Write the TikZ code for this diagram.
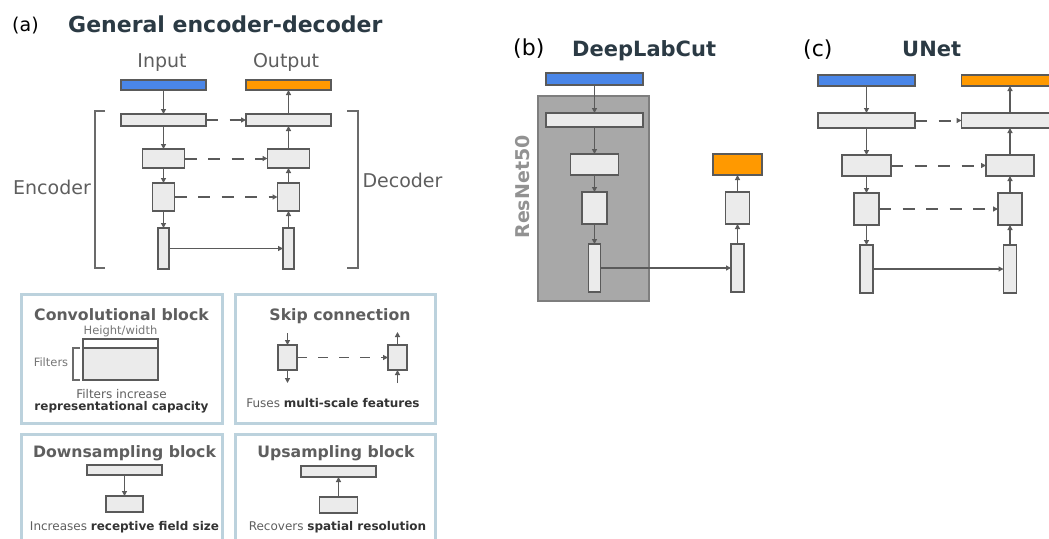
\documentclass[tikz,border=0pt]{standalone}
\usepackage{fontspec}
\setmainfont{DejaVu Sans}
\usetikzlibrary{arrows.meta}
\definecolor{ln}{HTML}{5A5A5A}
\definecolor{blkfill}{HTML}{EBEBEB}
\definecolor{inblue}{HTML}{4A86E8}
\definecolor{outorange}{HTML}{FF9900}
\definecolor{txtgray}{HTML}{5E5E5E}
\definecolor{titledark}{HTML}{2B3A44}
\definecolor{framebl}{HTML}{BCD2DD}
\definecolor{resfill}{HTML}{A8A8A8}
\definecolor{resline}{HTML}{7E7E7E}
\definecolor{restxt}{HTML}{929292}
\definecolor{boldtxt}{HTML}{333333}
\begin{document}
\begin{tikzpicture}[x=1pt,y=-1pt,
  blk/.style={draw=ln, fill=blkfill, line width=1.6pt, inner sep=0pt, outer sep=0pt},
  inbar/.style={blk, fill=inblue},
  outbar/.style={blk, fill=outorange},
  arr/.style={draw=ln, line width=1.6pt, -{Triangle[length=5pt,width=5pt]}},
  skiparr/.style={arr, line width=2pt, dash pattern=on 12pt off 11.5pt},
  bracket/.style={draw=ln!90, line width=1.6pt},
  frame/.style={draw=framebl, line width=3pt},
  lbl/.style={font=\fontsize{19}{22}\selectfont, text=txtgray, inner sep=0pt},
  plabel/.style={font=\fontsize{19}{22}\selectfont, text=black, inner sep=0pt},
  ptitle/.style={font=\fontsize{22}{26}\selectfont\bfseries, text=titledark, inner sep=0pt},
  ptitleb/.style={font=\fontsize{21}{25}\selectfont\bfseries, text=titledark, inner sep=0pt},
  lgtitle/.style={font=\fontsize{15.7}{18}\selectfont\bfseries, text=txtgray, inner sep=0pt},
  lgsmall/.style={font=\fontsize{12}{14}\selectfont, text=txtgray, inner sep=0pt},
  lgtiny/.style={font=\fontsize{11.5}{13}\selectfont, text=txtgray!85, inner sep=0pt}
]
\useasboundingbox (0,0) rectangle (1049,538);
\clip (0,0) rectangle (1049,538);

% ---------------- (a) General encoder-decoder
\node[plabel, anchor=base west] (la) at (12,31) {(a)};
\node[ptitle, anchor=base west] (ta) at (68,32) {General encoder-decoder};
\node[lbl, anchor=base] (tin) at (162,67) {Input};
\node[lbl, anchor=base] (tout) at (286,67) {Output};
\node[lbl, anchor=base] (tenc) at (52,194) {Encoder};
\node[lbl, anchor=base] (tdec) at (402.5,187) {Decoder};

\node[inbar, minimum width=85pt, minimum height=10pt] (ain) at (163.5,85) {};
\node[outbar, minimum width=85pt, minimum height=10pt] (aout) at (288.5,85) {};
\node[blk, minimum width=85pt, minimum height=12pt] (ae1) at (163.5,120) {};
\node[blk, minimum width=85pt, minimum height=12pt] (ad1) at (288.5,120) {};
\node[blk, minimum width=42pt, minimum height=19pt] (ae2) at (163.5,158.5) {};
\node[blk, minimum width=42pt, minimum height=19pt] (ad2) at (288.5,158.5) {};
\node[blk, minimum width=22pt, minimum height=28pt] (ae3) at (163.5,197) {};
\node[blk, minimum width=22pt, minimum height=28pt] (ad3) at (288.5,197) {};
\node[blk, minimum width=11pt, minimum height=41pt] (ae4) at (163.5,248.5) {};
\node[blk, minimum width=11pt, minimum height=41pt] (ad4) at (288.5,248.5) {};

\draw[arr] (ain.south) -- (ae1.north);
\draw[arr] (ae1.south) -- (ae2.north);
\draw[arr] (ae2.south) -- (ae3.north);
\draw[arr] (ae3.south) -- (ae4.north);
\draw[arr] (ad4.north) -- (ad3.south);
\draw[arr] (ad3.north) -- (ad2.south);
\draw[arr] (ad2.north) -- (ad1.south);
\draw[arr] (ad1.north) -- (aout.south);
\draw[skiparr] (ae1.east) -- (ad1.west);
\draw[skiparr] (ae2.east) -- (ad2.west);
\draw[skiparr] (ae3.east) -- (ad3.west);
\draw[arr] (ae4.east) -- (ad4.west);

\draw[bracket] (105,111) -- (95,111) -- (95,268) -- (105,268);
\draw[bracket] (347,111) -- (358,111) -- (358,268) -- (347,268);

% ---------------- (b) DeepLabCut
\node[plabel, font=\fontsize{22}{26}\selectfont, anchor=base west] (lb) at (513,55) {(b)};
\node[ptitleb, anchor=base west] (tb) at (572,56) {DeepLabCut};
\node[draw=resline, fill=resfill, line width=1.6pt, inner sep=0pt, outer sep=0pt,
      minimum width=111pt, minimum height=205pt] (res) at (593.5,198.5) {};
\node[font=\fontsize{19}{22}\selectfont\bfseries, text=restxt, rotate=90, inner sep=0pt] (tres) at (523,187) {ResNet50};

\node[inbar, minimum width=97pt, minimum height=12pt] (bin) at (594.5,79) {};
\node[blk, minimum width=97pt, minimum height=14pt] (b1) at (594.5,120) {};
\node[blk, minimum width=48pt, minimum height=21pt] (b2) at (594.5,164.5) {};
\node[blk, minimum width=25pt, minimum height=32pt] (b3) at (594.5,208) {};
\node[blk, minimum width=12pt, minimum height=48pt] (b4) at (594.5,268) {};
\node[outbar, minimum width=49pt, minimum height=21pt] (bout) at (737.5,164.5) {};
\node[blk, minimum width=24pt, minimum height=32pt] (br3) at (737.5,208) {};
\node[blk, minimum width=13pt, minimum height=48pt] (br4) at (737.5,268) {};

\draw[arr] (bin.south) -- (b1.north);
\draw[arr] (b1.south) -- (b2.north);
\draw[arr] (b2.south) -- (b3.north);
\draw[arr] (b3.south) -- (b4.north);
\draw[arr] (br4.north) -- (br3.south);
\draw[arr] (br3.north) -- (bout.south);
\draw[arr] (b4.east) -- (br4.west);

% ---------------- (c) UNet
\node[plabel, font=\fontsize{22}{26}\selectfont, anchor=base west] (lc) at (803,56) {(c)};
\node[ptitleb, anchor=base west] (tc) at (902,56) {UNet};

\node[inbar, minimum width=97pt, minimum height=11pt] (cin) at (866.5,80.5) {};
\node[outbar, minimum width=97pt, minimum height=11pt] (cout) at (1010,80.5) {};
\node[blk, minimum width=97pt, minimum height=15pt] (ce1) at (866.5,120.5) {};
\node[blk, minimum width=97pt, minimum height=15pt] (cd1) at (1010,120.5) {};
\node[blk, minimum width=49pt, minimum height=21pt] (ce2) at (866.5,165.5) {};
\node[blk, minimum width=48pt, minimum height=21pt] (cd2) at (1010,165.5) {};
\node[blk, minimum width=25pt, minimum height=32pt] (ce3) at (866.5,209) {};
\node[blk, minimum width=24pt, minimum height=32pt] (cd3) at (1010,209) {};
\node[blk, minimum width=13pt, minimum height=48pt] (ce4) at (866.5,269) {};
\node[blk, minimum width=13pt, minimum height=48pt] (cd4) at (1010,269) {};

\draw[arr] (cin.south) -- (ce1.north);
\draw[arr] (ce1.south) -- (ce2.north);
\draw[arr] (ce2.south) -- (ce3.north);
\draw[arr] (ce3.south) -- (ce4.north);
\draw[arr] (cd4.north) -- (cd3.south);
\draw[arr] (cd3.north) -- (cd2.south);
\draw[arr] (cd2.north) -- (cd1.south);
\draw[arr] (cd1.north) -- (cout.south);
\draw[skiparr] (ce1.east) -- (cd1.west);
\draw[skiparr] (ce2.east) -- (cd2.west);
\draw[skiparr] (ce3.east) -- (cd3.west);
\draw[arr] (ce4.east) -- (cd4.west);

% ---------------- Legend frames
\draw[frame] (21,294) rectangle (222,423);
\draw[frame] (235,294) rectangle (435,423);
\draw[frame] (21,434) rectangle (222,560);
\draw[frame] (235,434) rectangle (435,560);

% Convolutional block
\node[lgtitle, anchor=base] (tconv) at (121.5,320) {Convolutional block};
\node[lgtiny, anchor=base] (thw) at (120.5,334) {Height/width};
\node[lgtiny, anchor=base] (tfil) at (51,366) {Filters};
\node[blk, minimum width=75pt, minimum height=32pt] (cb) at (120.5,364) {};
\draw[draw=ln, line width=1.4pt] (cb.north west) -- ++(0,-9) -| (cb.north east);
\draw[bracket, line width=1.3pt] (80,348) -- (73,348) -- (73,380) -- (80,380);
\node[lgsmall, anchor=base] (tfi) at (121.5,398) {Filters increase};
\node[lgsmall, font=\fontsize{12}{14}\selectfont\bfseries, text=boldtxt, anchor=base] (trc) at (121.5,410) {representational capacity};

% Skip connection
\node[lgtitle, anchor=base] (tskip) at (340,320) {Skip connection};
\node[blk, minimum width=19pt, minimum height=25pt] (sl) at (287.5,357.5) {};
\node[blk, minimum width=19pt, minimum height=25pt] (sr) at (397.5,357.5) {};
\coordinate (slt) at (287.5,333);
\coordinate (slb) at (287.5,383);
\coordinate (srt) at (397.5,332);
\coordinate (srb) at (397.5,383);
\draw[arr] (slt) -- (sl.north);
\draw[arr] (sl.south) -- (slb);
\draw[arr] (srb) -- (sr.south);
\draw[arr] (sr.north) -- (srt);
\draw[skiparr, line width=1.8pt, dash pattern=on 10pt off 11pt] (sl.east) -- (sr.west);
\node[lgsmall, anchor=base] (tfuse) at (333,407) {Fuses \textbf{\color{boldtxt}multi-scale features}};

% Downsampling block
\node[lgtitle, anchor=base] (tdown) at (124.5,457) {Downsampling block};
\node[blk, minimum width=75pt, minimum height=10pt] (dt) at (124.5,470) {};
\node[blk, minimum width=37pt, minimum height=16pt] (db) at (124.5,504) {};
\draw[arr] (dt.south) -- (db.north);
\node[lgsmall, anchor=base] (tinc) at (124.5,530) {Increases \textbf{\color{boldtxt}receptive field size}};

% Upsampling block
\node[lgtitle, anchor=base] (tup) at (336,457) {Upsampling block};
\node[blk, minimum width=75pt, minimum height=11pt] (ut) at (338.5,471.5) {};
\node[blk, minimum width=38pt, minimum height=16pt] (ub) at (338.5,505) {};
\draw[arr] (ub.north) -- (ut.south);
\node[lgsmall, anchor=base] (trec) at (337.5,530) {Recovers \textbf{\color{boldtxt}spatial resolution}};
\end{tikzpicture}
\end{document}
